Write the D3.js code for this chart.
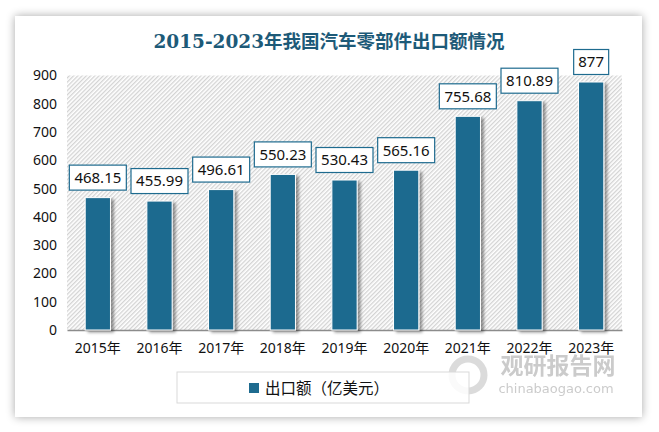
<!DOCTYPE html>
<html>
<head>
<meta charset="utf-8">
<script src="https://cdn.jsdelivr.net/npm/d3@7"></script>
<style>
  body { margin: 0; background: #ffffff; }
  svg { display: block; }
</style>
</head>
<body>
<svg id="chart" width="659" height="432"></svg>
<script>
// ------------------ DATA ------------------
const years = ["2015年", "2016年", "2017年", "2018年", "2019年", "2020年", "2021年", "2022年", "2023年"];
const exportValues = [468.15, 455.99, 496.61, 550.23, 530.43, 565.16, 755.68, 810.89, 877];
const valueLabels = ["468.15", "455.99", "496.61", "550.23", "530.43", "565.16", "755.68", "810.89", "877"];
const yTicks = [0, 100, 200, 300, 400, 500, 600, 700, 800, 900];

const title = "2015-2023年我国汽车零部件出口额情况";
const legendLabel = "出口额（亿美元）";

// ------------------ SETUP ------------------
const svg = d3.select("#chart");
const barColor = "#1e6b8f";
const labelFont = "'Noto Sans', 'Noto Sans CJK SC', sans-serif";

const plot = { left: 67, right: 622, top: 75.5, bottom: 330 };

const x = d3.scaleBand()
    .domain(years)
    .range([plot.left, plot.right])
    .paddingInner(0.59)
    .paddingOuter(0.295);

const y = d3.scaleLinear()
    .domain([0, 900])
    .range([plot.bottom, plot.top]);

let defs = svg.append("defs");

// card shadow
let shadow = defs.append("filter").attr("id", "cardShadow")
    .attr("x", "-10%").attr("y", "-10%").attr("width", "120%").attr("height", "120%");
shadow.append("feGaussianBlur").attr("in", "SourceAlpha").attr("stdDeviation", 5);
shadow.append("feOffset").attr("dx", 0).attr("dy", 0);
shadow.append("feComponentTransfer").append("feFuncA").attr("type", "linear").attr("slope", 0.35);
let merge = shadow.append("feMerge");
merge.append("feMergeNode");
merge.append("feMergeNode").attr("in", "SourceGraphic");

// bar shadow
let barShadow = defs.append("filter").attr("id", "barShadow")
    .attr("x", "-30%").attr("y", "-10%").attr("width", "160%").attr("height", "120%");
barShadow.append("feGaussianBlur").attr("in", "SourceAlpha").attr("stdDeviation", 1.5);
barShadow.append("feOffset").attr("dx", 2.5).attr("dy", 1.5);
barShadow.append("feComponentTransfer").append("feFuncA").attr("type", "linear").attr("slope", 0.4);
let merge2 = barShadow.append("feMerge");
merge2.append("feMergeNode");
merge2.append("feMergeNode").attr("in", "SourceGraphic");

// diagonal hatch for plot background
let hatch = defs.append("pattern").attr("id", "hatch")
    .attr("patternUnits", "userSpaceOnUse")
    .attr("width", 3).attr("height", 3)
    .attr("patternTransform", "rotate(45)");
hatch.append("rect").attr("width", 3).attr("height", 3).attr("fill", "#ffffff");
hatch.append("rect").attr("width", 1.3).attr("height", 3).attr("fill", "#d3d3d3");

// ------------------ CARD ------------------
svg.append("rect")
    .attr("x", 15).attr("y", 16)
    .attr("width", 627).attr("height", 401)
    .attr("fill", "#ffffff")
    .attr("filter", "url(#cardShadow)");

// title
svg.append("text")
    .attr("x", 329).attr("y", 48)
    .attr("text-anchor", "middle")
    .attr("font-family", "'DejaVu Serif', 'Noto Sans CJK SC', serif")
    .attr("font-weight", "bold")
    .attr("font-size", 18.5)
    .attr("fill", "#1d5a78")
    .text(title);

// plot background
svg.append("rect")
    .attr("x", plot.left).attr("y", plot.top)
    .attr("width", plot.right - plot.left).attr("height", plot.bottom - plot.top)
    .attr("fill", "url(#hatch)");

// ------------------ AXES ------------------
let yAxis = svg.append("g")
    .attr("transform", "translate(" + plot.left + ",0)")
    .call(d3.axisLeft(y).tickValues(yTicks).tickSize(0).tickPadding(10));
yAxis.select(".domain").remove();
yAxis.selectAll("text")
    .attr("font-family", labelFont)
    .attr("font-size", 14)
    .attr("fill", "#111");

let xAxis = svg.append("g")
    .attr("transform", "translate(0," + plot.bottom + ")")
    .call(d3.axisBottom(x).tickSize(0).tickPadding(13));
xAxis.select(".domain").attr("stroke", "#8c8c8c").attr("stroke-width", 1.5);
xAxis.selectAll("text")
    .attr("font-family", labelFont)
    .attr("font-size", 14)
    .attr("fill", "#111");

// ------------------ BARS ------------------
svg.append("g")
    .selectAll("rect")
    .data(exportValues)
    .enter().append("rect")
    .attr("x", (d, i) => x(years[i]))
    .attr("y", d => y(d))
    .attr("width", x.bandwidth())
    .attr("height", d => y(0) - y(d))
    .attr("fill", barColor)
    .attr("stroke", "#ffffff")
    .attr("stroke-width", 1)
    .attr("filter", "url(#barShadow)");

// ------------------ VALUE LABELS ------------------
let labels = svg.append("g")
    .selectAll("g")
    .data(exportValues)
    .enter().append("g")
    .attr("transform", (d, i) => "translate(" + (x(years[i]) + x.bandwidth() / 2) + "," + (y(d) - 20) + ")");

labels.append("rect")
    .attr("x", (d, i) => valueLabels[i].length > 3 ? -28.5 : -17.5)
    .attr("y", -12.5)
    .attr("width", (d, i) => valueLabels[i].length > 3 ? 57 : 35)
    .attr("height", 25)
    .attr("fill", "#ffffff")
    .attr("stroke", barColor)
    .attr("stroke-width", 1.2);

labels.append("text")
    .attr("text-anchor", "middle")
    .attr("dy", "0.36em")
    .attr("font-family", labelFont)
    .attr("font-size", 15)
    .attr("fill", "#111")
    .text((d, i) => valueLabels[i]);

// ------------------ WATERMARK ------------------
let mark = svg.append("g").attr("opacity", 0.6);
mark.append("circle")
    .attr("cx", 468).attr("cy", 375).attr("r", 16)
    .attr("fill", "none").attr("stroke", "#c4c4c4").attr("stroke-width", 7);
mark.append("text")
    .attr("x", 558).attr("y", 374)
    .attr("text-anchor", "middle")
    .attr("font-family", "'Noto Sans CJK SC', sans-serif")
    .attr("font-weight", "bold")
    .attr("font-size", 23)
    .attr("fill", "#a9a9a9")
    .text("观研报告网");
mark.append("text")
    .attr("x", 556).attr("y", 393)
    .attr("text-anchor", "middle")
    .attr("font-family", "'DejaVu Sans', sans-serif")
    .attr("font-size", 13)
    .attr("fill", "#a9a9a9")
    .text("chinabaogao.com");

// ------------------ LEGEND ------------------
svg.append("rect")
    .attr("x", 177).attr("y", 372)
    .attr("width", 292).attr("height", 31)
    .attr("fill", "#ffffff")
    .attr("fill-opacity", 0.85)
    .attr("stroke", "#d9d9d9");
svg.append("rect")
    .attr("x", 249).attr("y", 383)
    .attr("width", 10).attr("height", 10)
    .attr("fill", barColor);
svg.append("text")
    .attr("x", 265).attr("y", 393.5)
    .attr("font-family", labelFont)
    .attr("font-size", 15.5)
    .attr("fill", "#111")
    .text(legendLabel);
</script>
</body>
</html>
